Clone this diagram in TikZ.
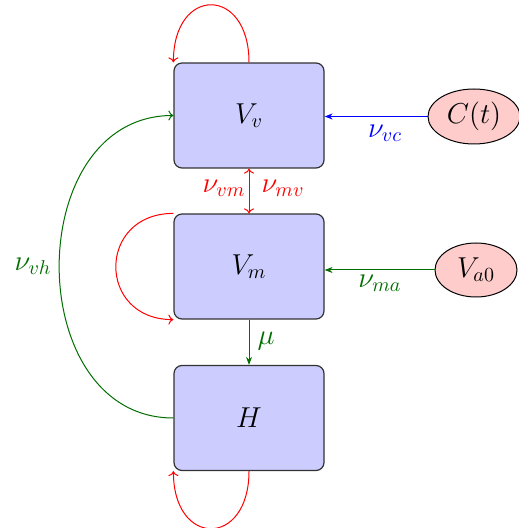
\documentclass[tikz,border=0pt]{standalone}
\usetikzlibrary{shapes.geometric,arrows.meta}
\definecolor{boxfill}{RGB}{204,204,255}
\definecolor{ellfill}{RGB}{255,204,204}
\definecolor{dgreen}{RGB}{0,110,0}
\begin{document}
\begin{tikzpicture}[x=0.5pt,y=-0.5pt,
  comp/.style={draw=black!80,line width=0.6pt,fill=boxfill,rounded corners=4pt,
    minimum width=75pt,minimum height=52.5pt,inner sep=0pt,font=\fontsize{14.5}{17}\selectfont},
  src/.style={ellipse,draw=black,line width=0.5pt,fill=ellfill,minimum width=46pt,minimum height=27.5pt,inner sep=0pt,font=\fontsize{14.5}{17}\selectfont},
  lab/.style={font=\fontsize{14.5}{17}\selectfont,inner sep=0pt},
  flow/.style={line width=0.5pt,-{Stealth[length=4pt,width=3pt]}},
  loop/.style={line width=0.5pt,-{To[length=2.5pt,width=5pt]}}]
\useasboundingbox (0,0) rectangle (518,528);
\node[comp] (Vv) at (249,115.5) {$V_v$};
\node[comp] (Vm) at (249,266.5) {$V_m$};
\node[comp] (H) at (249,418) {$H$};
\node[src] (C) at (474,116.5) {$C(t)$};
\node[src,minimum width=41pt,minimum height=27pt] (Va) at (476,270) {$V_{a0}$};
% straight flows
\draw[flow,blue] (C.west) -- (Vv.east |- C.west);
\node[lab,blue] (lvc) at (385,133) {$\nu_{vc}$};
\draw[flow,dgreen] (Va.west) -- (Vm.east |- Va.west);
\node[lab,dgreen] (lma) at (380,283) {$\nu_{ma}$};
\draw[line width=0.5pt,red,{To[length=2.5pt,width=5pt]}-{To[length=2.5pt,width=5pt]}] (Vv.south) -- (Vm.north);
\node[lab,red] (lvm) at (224,188) {$\nu_{vm}$};
\node[lab,red] (lmv) at (283,188) {$\nu_{mv}$};
\draw[flow,dgreen] (Vm.south) -- (H.north);
\node[lab,dgreen] (lmu) at (266,341) {$\mu$};
% loops
\draw[loop,red] (Vv.north) to[out=90,in=90,looseness=2.6] (Vv.north west);
\draw[loop,red] (Vm.north west) to[out=180,in=180,looseness=1.85] (Vm.south west);
\draw[loop,red] (H.south) to[out=270,in=270,looseness=2.6] (H.south west);
\draw[loop,dgreen] (H.west) to[out=180,in=180,looseness=1.29] (Vv.west);
\node[lab,dgreen] (lvh) at (33,266) {$\nu_{vh}$};
\end{tikzpicture}
\end{document}
